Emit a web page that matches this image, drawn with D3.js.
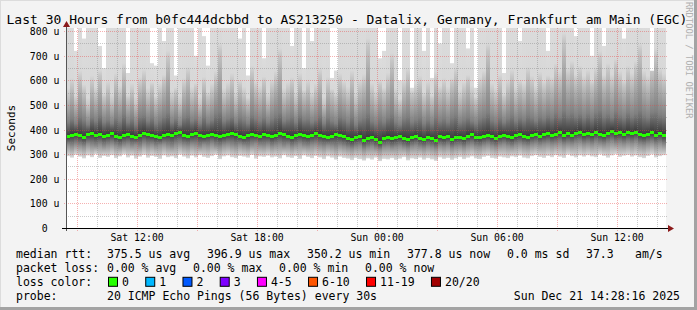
<!DOCTYPE html>
<html>
<head>
<meta charset="utf-8">
<script src="https://cdn.jsdelivr.net/npm/d3@7"></script>
<style>
  html, body { margin: 0; padding: 0; background: #f3f3f3; }
  svg { display: block; }
  text { font-family: 'DejaVu Sans Mono', monospace; fill: #000; }
</style>
</head>
<body>
<svg id="chart" width="697" height="310"></svg>
<script>
const titleText = 'Last 30 Hours from b0fc444dcbbd to AS213250 - Datalix, Germany, Frankfurt am Main (EGC)';
const watermark = 'RRDTOOL / TOBI OETIKER';
const yLabel = 'Seconds';
const startTime = new Date(2025, 11, 20, 8, 28, 16);
const endTime = new Date(2025, 11, 21, 14, 28, 16);
const stepMinutes = 12;
const yTicks = [0, 100, 200, 300, 400, 500, 600, 700, 800];

// median rtt per 12 minute step (us)
const median = [
  372, 380, 384, 377, 370, 381, 386, 379, 383, 376,
  380, 385, 374, 369, 378, 382, 376, 371, 380, 387,
  382, 377, 373, 368, 378, 383, 380, 386, 390, 379,
  376, 381, 387, 378, 372, 380, 384, 379, 374, 377,
  383, 388, 381, 375, 370, 378, 384, 380, 376, 382,
  379, 373, 378, 385, 381, 376, 371, 377, 382, 378,
  374, 380, 385, 379, 375, 369, 376, 381, 377, 372,
  366, 360, 368, 373, 358, 365, 370, 362, 350, 367,
  371, 364, 368, 373, 366, 361, 369, 374, 367, 363,
  370, 366, 359, 372, 368, 375, 362, 369, 371, 365,
  376, 381, 370, 368, 374, 379, 372, 367, 375, 380,
  373, 369, 377, 382, 375, 371, 379, 384, 376, 381,
  386, 379, 383, 390, 378, 385, 380, 388, 392, 382,
  387, 381, 390, 384, 379, 388, 396, 385, 389, 383,
  390, 386, 392, 381, 377, 384, 389, 380, 386, 378
];

// slowest ping of the step (values above the chart are cut at the top)
const pingMax = [
  900, 900, 720, 900, 770, 900, 900, 900, 740, 650,
  900, 900, 900, 900, 900, 630, 900, 900, 900, 900,
  900, 670, 660, 900, 760, 900, 900, 620, 900, 900,
  900, 900, 700, 900, 780, 660, 900, 900, 900, 900,
  900, 900, 900, 770, 900, 620, 900, 900, 900, 690,
  900, 900, 900, 900, 900, 900, 740, 900, 900, 650,
  900, 760, 900, 900, 900, 900, 610, 640, 900, 900,
  900, 900, 900, 900, 900, 900, 900, 900, 690, 720,
  900, 900, 900, 600, 900, 900, 570, 900, 900, 720,
  900, 610, 900, 750, 900, 900, 670, 900, 900, 900,
  730, 900, 570, 900, 900, 900, 900, 900, 900, 630,
  900, 900, 900, 760, 900, 900, 900, 900, 900, 900,
  720, 900, 900, 900, 900, 900, 900, 780, 900, 900,
  900, 700, 900, 900, 740, 900, 900, 900, 900, 770,
  900, 900, 900, 900, 900, 900, 640, 900, 900, 900
];

// upper edge of the medium smoke
const pingUp = [
  540, 580, 520, 610, 560, 500, 590, 545, 620, 530,
  570, 515, 600, 550, 640, 525, 560, 505, 585, 615,
  540, 575, 520, 560, 600, 690, 530, 555, 510, 580,
  625, 545, 570, 505, 590, 535, 560, 610, 720, 540,
  565, 600, 525, 580, 545, 515, 630, 570, 550, 595,
  520, 575, 610, 700, 540, 565, 590, 525, 600, 545,
  575, 530, 560, 620, 505, 585, 550, 530, 600, 570,
  545, 610, 520, 575, 595, 740, 560, 530, 580, 550,
  600, 680, 540, 510, 575, 620, 545, 560, 590, 530,
  570, 525, 605, 555, 580, 545, 590, 625, 535, 565,
  600, 550, 520, 585, 610, 720, 560, 540, 595, 530,
  575, 615, 545, 580, 560, 625, 590, 550, 605, 570,
  600, 585, 640, 610, 760, 620, 650, 600, 630, 590,
  615, 580, 625, 690, 600, 640, 595, 660, 610, 580,
  630, 600, 650, 720, 610, 590, 640, 700, 620, 600
];

// upper edge of the dark smoke
const pingHi = [
  430, 445, 425, 455, 440, 420, 450, 435, 460, 430,
  440, 425, 450, 435, 465, 430, 445, 420, 455, 460,
  435, 450, 425, 440, 455, 470, 430, 445, 420, 450,
  460, 435, 445, 425, 455, 430, 440, 465, 475, 435,
  445, 455, 430, 450, 440, 425, 460, 445, 435, 450,
  430, 445, 460, 470, 435, 445, 455, 430, 460, 440,
  445, 430, 440, 460, 425, 450, 435, 425, 455, 445,
  430, 455, 420, 440, 450, 470, 435, 425, 445, 430,
  450, 465, 430, 420, 445, 455, 430, 440, 450, 425,
  440, 425, 455, 435, 445, 430, 450, 460, 430, 440,
  450, 435, 425, 445, 455, 470, 440, 430, 450, 430,
  445, 460, 435, 450, 440, 460, 450, 435, 455, 445,
  460, 450, 470, 455, 480, 460, 470, 455, 465, 450,
  465, 450, 470, 480, 455, 465, 450, 475, 460, 450,
  470, 455, 465, 480, 460, 450, 470, 475, 460, 455
];

// lower edge of the dark smoke
const pingLo = [
  338, 332, 340, 335, 330, 342, 336, 333, 339, 331,
  337, 341, 334, 329, 336, 340, 333, 338, 331, 342,
  335, 339, 332, 337, 341, 334, 330, 338, 343, 336,
  333, 340, 337, 331, 339, 335, 342, 334, 330, 338,
  341, 336, 332, 339, 334, 330, 337, 342, 335, 333,
  339, 331, 336, 340, 333, 338, 329, 335, 341, 334,
  332, 337, 340, 334, 330, 336, 333, 328, 335, 331,
  326, 322, 329, 333, 320, 327, 331, 324, 318, 328,
  330, 325, 329, 333, 327, 322, 330, 334, 328, 324,
  331, 327, 321, 333, 329, 335, 324, 330, 332, 326,
  334, 338, 331, 329, 335, 339, 333, 328, 336, 340,
  334, 330, 337, 341, 335, 332, 338, 342, 336, 340,
  343, 338, 341, 346, 337, 342, 339, 345, 348, 340,
  344, 339, 347, 342, 338, 345, 350, 343, 346, 341,
  347, 343, 349, 339, 336, 342, 346, 338, 344, 337
];

// fastest ping of the step
const pingMin = [
  292, 286, 298, 290, 283, 295, 288, 300, 285, 293,
  289, 296, 284, 291, 299, 287, 294, 282, 290, 297,
  286, 293, 289, 281, 295, 288, 291, 284, 298, 290,
  283, 294, 287, 296, 289, 285, 292, 298, 280, 291,
  295, 288, 284, 293, 290, 286, 297, 282, 291, 289,
  294, 287, 290, 283, 296, 288, 285, 292, 281, 295,
  289, 284, 293, 287, 280, 291, 286, 278, 290, 285,
  282, 276, 285, 280, 274, 283, 278, 286, 272, 281,
  279, 284, 277, 282, 288, 275, 283, 280, 286, 278,
  284, 279, 273, 287, 281, 285, 277, 283, 288, 280,
  286, 291, 283, 280, 289, 293, 285, 282, 290, 287,
  284, 291, 288, 294, 286, 283, 292, 296, 289, 285,
  293, 288, 296, 290, 285, 298, 292, 287, 295, 290,
  296, 291, 288, 299, 293, 286, 295, 300, 289, 294,
  297, 290, 295, 288, 284, 293, 299, 287, 292, 296
];

const medianLabel = 'median rtt:';
const medianStats = ['375.5 us avg', '396.9 us max', '350.2 us min', '377.8 us now', '0.0 ms sd', '37.3', 'am/s'];
const lossLabel = 'packet loss:';
const lossStats = ['0.00 % avg', '0.00 % max', '0.00 % min', '0.00 % now'];
const colorLabel = 'loss color:';
const lossNames = ['0', '1', '2', '3', '4-5', '6-10', '11-19', '20/20'];
const lossColors = ['#26ff00', '#00b8ff', '#0059ff', '#7e00ff', '#ff00ff', '#ff5500', '#ff0000', '#a10000'];
const probeLabel = 'probe:';
const probeText = '20 ICMP Echo Pings (56 Bytes) every 30s';
const stampText = 'Sun Dec 21 14:28:16 2025';

const W = 697, H = 310;
const plot = { left: 66, top: 28, width: 600, height: 200 };
const bottom = plot.top + plot.height;

const svg = d3.select('#chart');
const defs = svg.append('defs');

// background and frame shading
svg.append('rect').attr('width', W).attr('height', H).attr('fill', '#f3f3f3');
svg.append('rect').attr('x', 0).attr('y', 0).attr('width', W).attr('height', 1).attr('fill', '#dcdcdc');
svg.append('rect').attr('x', 0).attr('y', 0).attr('width', 1).attr('height', H).attr('fill', '#dcdcdc');
svg.append('rect').attr('x', W - 3).attr('y', 0).attr('width', 3).attr('height', H).attr('fill', '#a3a3a3');
svg.append('rect').attr('x', 0).attr('y', H - 3).attr('width', W).attr('height', 3).attr('fill', '#a3a3a3');

const x = d3.scaleTime().domain([startTime, endTime]).range([plot.left, plot.left + plot.width]);
const y = d3.scaleLinear().domain([0, 813]).range([bottom, plot.top]);

svg.append('rect')
  .attr('x', plot.left).attr('y', plot.top)
  .attr('width', plot.width).attr('height', plot.height)
  .attr('fill', '#fff');

defs.append('clipPath').attr('id', 'plotClip')
  .append('rect')
  .attr('x', plot.left).attr('y', plot.top)
  .attr('width', plot.width).attr('height', plot.height);

const columns = median.map((m, i) => ({
  t0: d3.timeMinute.offset(startTime, i * stepMinutes),
  t1: d3.timeMinute.offset(startTime, (i + 1) * stepMinutes),
  med: m, min: pingMin[i], lo: pingLo[i], hi: pingHi[i], up: pingUp[i], max: pingMax[i]
}));

// smoke: one shaded column per step
const grads = defs.selectAll('linearGradient')
  .data(columns)
  .join('linearGradient')
  .attr('id', (d, i) => 'smoke' + i)
  .attr('gradientUnits', 'userSpaceOnUse')
  .attr('x1', 0).attr('x2', 0)
  .attr('y1', d => y(d.min))
  .attr('y2', d => y(d.max));

grads.selectAll('stop')
  .data(d => {
    const o = v => (v - d.min) / (d.max - d.min);
    return [
      [0, '#dadada'],
      [o(d.lo), '#8e8e8e'],
      [o(d.med), '#3a3a3a'],
      [o(d.hi), '#808080'],
      [o(d.up), '#c6c6c6'],
      [Math.min(1, o(d.up) + 0.05), '#d8d8d8'],
      [1, '#dcdcdc']
    ];
  })
  .join('stop')
  .attr('offset', s => s[0])
  .attr('stop-color', s => s[1]);

const smoke = svg.append('g').attr('clip-path', 'url(#plotClip)');

smoke.selectAll('rect.smoke')
  .data(columns)
  .join('rect')
  .attr('class', 'smoke')
  .attr('x', d => Math.round(x(d.t0)))
  .attr('width', d => Math.round(x(d.t1)) - Math.round(x(d.t0)))
  .attr('y', d => y(d.max))
  .attr('height', d => y(d.min) - y(d.max))
  .attr('fill', (d, i) => `url(#smoke${i})`);

smoke.selectAll('rect.median')
  .data(columns)
  .join('rect')
  .attr('class', 'median')
  .attr('x', d => Math.round(x(d.t0)))
  .attr('width', d => Math.round(x(d.t1)) - Math.round(x(d.t0)))
  .attr('y', d => Math.round(y(d.med)) - 1)
  .attr('height', 3)
  .attr('fill', lossColors[0]);

// grid on top of the data
const grid = svg.append('g');
const minorY = d3.range(50, 813, 100);
const majorY = yTicks.filter(v => v > 0);
const hours = d3.timeHour.every(1).range(startTime, endTime);
const minorX = hours.filter(t => t.getHours() % 3 !== 0);
const majorX = hours.filter(t => t.getHours() % 3 === 0);
const minorColor = 'rgba(130,130,130,0.42)';
const majorColor = 'rgba(232,70,70,0.42)';

grid.selectAll('line.minory').data(minorY).join('line')
  .attr('x1', plot.left).attr('x2', plot.left + plot.width + 1)
  .attr('y1', d => Math.round(y(d)) + 0.5).attr('y2', d => Math.round(y(d)) + 0.5)
  .attr('stroke', minorColor).attr('stroke-dasharray', '1,1');

grid.selectAll('line.minorx').data(minorX).join('line')
  .attr('x1', d => Math.round(x(d)) + 0.5).attr('x2', d => Math.round(x(d)) + 0.5)
  .attr('y1', plot.top).attr('y2', bottom)
  .attr('stroke', minorColor).attr('stroke-dasharray', '1,1');

grid.selectAll('line.majory').data(majorY).join('line')
  .attr('x1', plot.left - 2).attr('x2', plot.left + plot.width + 1)
  .attr('y1', d => Math.round(y(d)) + 0.5).attr('y2', d => Math.round(y(d)) + 0.5)
  .attr('stroke', majorColor).attr('stroke-dasharray', '1,1');

grid.selectAll('line.majorx').data(majorX).join('line')
  .attr('x1', d => Math.round(x(d)) + 0.5).attr('x2', d => Math.round(x(d)) + 0.5)
  .attr('y1', plot.top).attr('y2', bottom + 3)
  .attr('stroke', majorColor).attr('stroke-dasharray', '1,1');

// axes lines and arrows
svg.append('line')
  .attr('x1', plot.left + 0.5).attr('x2', plot.left + 0.5)
  .attr('y1', bottom + 3).attr('y2', plot.top - 2)
  .attr('stroke', '#555');
svg.append('line')
  .attr('x1', plot.left - 4).attr('x2', plot.left + plot.width + 4)
  .attr('y1', bottom + 0.5).attr('y2', bottom + 0.5)
  .attr('stroke', '#000');
svg.append('path')
  .attr('d', `M${plot.left - 3},${plot.top - 1}L${plot.left + 4},${plot.top - 1}L${plot.left + 0.5},${plot.top - 7}Z`)
  .attr('fill', '#8b1a1a');
svg.append('path')
  .attr('d', `M${plot.left + plot.width + 2},${bottom - 3}L${plot.left + plot.width + 2},${bottom + 4}L${plot.left + plot.width + 8},${bottom + 0.5}Z`)
  .attr('fill', '#8b1a1a');

// axis labels
const xAxis = svg.append('g')
  .attr('transform', `translate(0,${bottom})`)
  .call(d3.axisBottom(x)
    .ticks(d3.timeHour.every(6))
    .tickFormat(d3.timeFormat('%a %H:%M'))
    .tickSize(0));
xAxis.select('.domain').remove();
xAxis.selectAll('text')
  .attr('y', 13.3).attr('dy', null)
  .attr('font-family', "'DejaVu Sans Mono', monospace")
  .attr('font-size', 9.85);

const yAxis = svg.append('g')
  .attr('transform', `translate(${plot.left},0)`)
  .call(d3.axisLeft(y)
    .tickValues(yTicks)
    .tickFormat(v => v === 0 ? '0\u00a0\u00a0' : v + ' u')
    .tickSize(0)
    .tickPadding(6.5));
yAxis.select('.domain').remove();
yAxis.selectAll('text')
  .attr('dy', '0.36em')
  .attr('font-family', "'DejaVu Sans Mono', monospace")
  .attr('font-size', 9.85);

svg.append('text')
  .attr('transform', `translate(15,${plot.top + plot.height / 2}) rotate(-90)`)
  .attr('text-anchor', 'middle')
  .attr('font-size', 11)
  .text(yLabel);

svg.append('text')
  .attr('transform', 'translate(685.5,2) rotate(90)')
  .attr('font-size', 8.8)
  .style('fill', '#b0b0b0')
  .text(watermark);

svg.append('text')
  .attr('x', 347).attr('y', 23.5)
  .attr('text-anchor', 'middle')
  .attr('font-size', 13)
  .text(titleText);

// legend
const legend = svg.append('g').attr('font-size', 11.5);
const rows = [258, 272.3, 285.8, 300];

legend.append('text').attr('x', 16).attr('y', rows[0]).text(medianLabel);
const medianX = [107, 207, 307, 407, 507, 586, 635];
legend.selectAll('text.mstat').data(medianStats).join('text')
  .attr('class', 'mstat')
  .attr('x', (d, i) => medianX[i]).attr('y', rows[0])
  .text(d => d);

legend.append('text').attr('x', 16).attr('y', rows[1]).text(lossLabel);
const lossX = [107, 193, 279, 365];
legend.selectAll('text.lstat').data(lossStats).join('text')
  .attr('class', 'lstat')
  .attr('x', (d, i) => lossX[i]).attr('y', rows[1])
  .text(d => d);

legend.append('text').attr('x', 16).attr('y', rows[2]).text(colorLabel);
let bx = 108;
lossNames.forEach((name, i) => {
  legend.append('rect')
    .attr('x', bx + 0.5).attr('y', rows[2] - 8.5)
    .attr('width', 9).attr('height', 9)
    .attr('fill', lossColors[i]).attr('stroke', '#000');
  const t = legend.append('text').attr('x', bx + 14).attr('y', rows[2]).text(name);
  bx = bx + 14 + t.node().getComputedTextLength() + 16.3;
});

legend.append('text').attr('x', 16).attr('y', rows[3]).text(probeLabel);
legend.append('text').attr('x', 107).attr('y', rows[3]).text(probeText);
legend.append('text').attr('x', 680).attr('y', rows[3]).attr('text-anchor', 'end').text(stampText);
</script>
</body>
</html>
